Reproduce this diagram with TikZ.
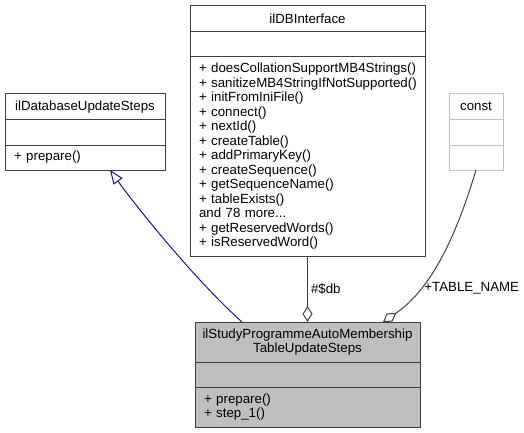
\documentclass[tikz,border=0pt]{standalone}
\usepackage{fontspec}
\setmainfont{Liberation Sans}
\usetikzlibrary{positioning,calc,arrows.meta}
\definecolor{navyline}{HTML}{191970}
\definecolor{edgegray}{HTML}{404040}
\definecolor{boxgray}{HTML}{BFBFBF}
\begin{document}
\begin{tikzpicture}[x=1pt, y=-1pt,
  clsbox/.style={rectangle, draw=edgegray, line width=1pt, inner sep=0pt, outer sep=0pt, font=\fontsize{13.3}{14.5}\selectfont},
  clshead/.style={clsbox, minimum height=25.5pt, align=center},
  clsattr/.style={clsbox, minimum height=25.5pt},
  clsops/.style={clsbox, align=left, inner xsep=9pt, execute at begin node={\hyphenpenalty=10000\hbadness=10000\hfuzz=20pt}},
  ghost/.style={draw=boxgray},
  inherit/.style={draw=navyline, line width=1pt, -{Triangle[open, length=14pt, width=11pt, fill=white]}},
  aggr/.style={draw=edgegray, line width=1pt, -{Diamond[open, length=16pt, width=10pt, fill=white]}},
  lbl/.style={font=\fontsize{13.3}{14.5}\selectfont}]

  \useasboundingbox (0,0) rectangle (524,433);

  \node[clshead, minimum width=160pt, anchor=north west] (dbsteps) at (5,94) {ilDatabaseUpdateSteps};
  \node[clsattr, minimum width=160pt, below=0pt of dbsteps] (dbstepsattr) {};
  \node[clsops, text width=142pt, minimum height=25pt, below=0pt of dbstepsattr] (dbstepsops) {+~prepare()};

  \node[clshead, minimum width=235pt, minimum height=26pt, anchor=north west] (dbif) at (190,5.5) {ilDBInterface};
  \node[clsattr, minimum width=235pt, minimum height=25pt, below=0pt of dbif] (dbifattr) {};
  \node[clsops, text width=217pt, minimum height=200pt, below=0pt of dbifattr] (dbifops) {+~doesCollationSupportMB4Strings()\\
    +~sanitizeMB4StringIfNotSupported()\\
    +~initFromIniFile()\\
    +~connect()\\
    +~nextId()\\
    +~createTable()\\
    +~addPrimaryKey()\\
    +~createSequence()\\
    +~getSequenceName()\\
    +~tableExists()\\
    and 78 more...\\
    +~getReservedWords()\\
    +~isReservedWord()};

  \node[clshead, ghost, minimum width=54pt, anchor=north west] (const) at (449,94) {const};
  \node[clsattr, ghost, minimum width=54pt, below=0pt of const] (constattr) {};
  \node[clsattr, ghost, minimum width=54pt, minimum height=25pt, below=0pt of constattr] (constops) {};

  \node[clshead, fill=boxgray, minimum width=225pt, minimum height=40pt, anchor=north west] (mainhead) at (195,322) {ilStudyProgrammeAutoMembership\\TableUpdateSteps};
  \node[clsattr, fill=boxgray, minimum width=225pt, minimum height=25pt, below=0pt of mainhead] (mainattr) {};
  \node[clsops, fill=boxgray, text width=207pt, minimum height=40pt, below=0pt of mainattr] (mainops) {+~prepare()\\+~step\_1()};

  \draw[inherit] ($(mainhead.north west)+(47,0)$) .. controls (195,280) and (135,205) .. ($(dbstepsops.south west)+(105,0)$);
  \draw[aggr] (dbifops.south) -- node[lbl, right, inner sep=3pt] {\#\$db} (mainhead.north);
  \draw[aggr] (constops.south) .. controls (455,240) and (430,290) .. node[lbl, pos=0.7, right, inner sep=4pt] {+TABLE\_NAME} ($(mainhead.north west)+(188,0)$);
\end{tikzpicture}
\end{document}
